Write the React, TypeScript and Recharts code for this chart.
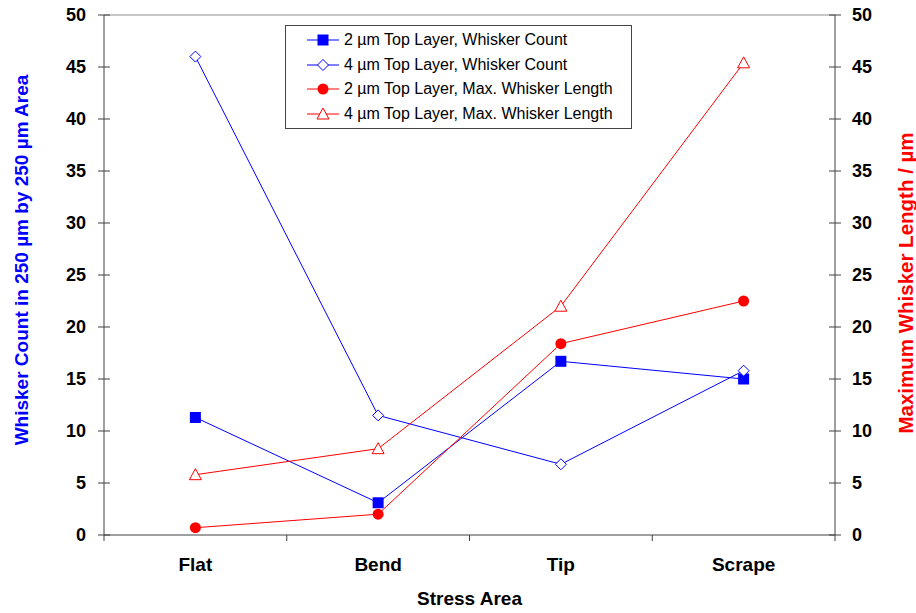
import React from 'react';
import { LineChart, Line, XAxis, YAxis, ReferenceLine } from 'recharts';

const categories = ['Flat', 'Bend', 'Tip', 'Scrape'];
const count2um = [11.3, 3.1, 16.7, 15.0];
const count4um = [46.0, 11.5, 6.8, 15.8];
const length2um = [0.7, 2.0, 18.4, 22.5];
const length4um = [5.8, 8.3, 22.0, 45.4];
const yTicks = [0, 5, 10, 15, 20, 25, 30, 35, 40, 45, 50];
const xTicks = [0, 0.5, 1, 1.5, 2, 2.5, 3, 3.5, 4];

const BLUE = '#0000ff';
const RED = '#ff0000';
const FONT = '"Liberation Sans", Arial, sans-serif';

const data = categories.map((name, i) => ({
    x: i + 0.5,
    name,
    count2um: count2um[i],
    count4um: count4um[i],
    length2um: length2um[i],
    length4um: length4um[i],
}));

type MarkerKind = 'square' | 'diamond' | 'circle' | 'triangle';

function Marker({ kind, cx, cy, color }: { kind: MarkerKind; cx: number; cy: number; color: string }) {
    if (kind === 'square') {
        return <rect x={cx - 5.5} y={cy - 5.5} width={11} height={11} fill={color} />;
    }
    if (kind === 'diamond') {
        return <polygon points={`${cx},${cy - 5.5} ${cx + 5.5},${cy} ${cx},${cy + 5.5} ${cx - 5.5},${cy}`} fill="#fff" stroke={color} strokeWidth={1} />;
    }
    if (kind === 'circle') {
        return <circle cx={cx} cy={cy} r={5.5} fill={color} />;
    }
    return <polygon points={`${cx},${cy - 6} ${cx + 6},${cy + 5} ${cx - 6},${cy + 5}`} fill="#fff" stroke={color} strokeWidth={1} />;
}

const series = [
    { key: 'count2um', label: '2 µm Top Layer, Whisker Count', color: BLUE, marker: 'square' as MarkerKind, axis: 'left' },
    { key: 'count4um', label: '4 µm Top Layer, Whisker Count', color: BLUE, marker: 'diamond' as MarkerKind, axis: 'left' },
    { key: 'length2um', label: '2 µm Top Layer, Max. Whisker Length', color: RED, marker: 'circle' as MarkerKind, axis: 'right' },
    { key: 'length4um', label: '4 µm Top Layer, Max. Whisker Length', color: RED, marker: 'triangle' as MarkerKind, axis: 'right' },
];

const LeftTick = (props: any) => {
    const { x, y, payload } = props;
    return (
        <g>
            <line x1={x - 6} x2={x + 6} y1={y} y2={y} stroke="#404040" />
            <text x={x - 18} y={y} dy={6} textAnchor="end" fontFamily={FONT} fontWeight="bold" fontSize={18} fill="#000">
                {payload.value}
            </text>
        </g>
    );
};

const RightTick = (props: any) => {
    const { x, y, payload } = props;
    return (
        <g>
            <line x1={x - 6} x2={x + 6} y1={y} y2={y} stroke="#404040" />
            <text x={x + 17} y={y} dy={6} textAnchor="start" fontFamily={FONT} fontWeight="bold" fontSize={18} fill="#000">
                {payload.value}
            </text>
        </g>
    );
};

const BottomTick = (props: any) => {
    const { x, y, payload } = props;
    const v = payload.value as number;
    if (Number.isInteger(v)) {
        return <line x1={x} x2={x} y1={y} y2={y + 6} stroke="#404040" />;
    }
    return (
        <text x={x} y={y + 36} textAnchor="middle" fontFamily={FONT} fontWeight="bold" fontSize={19} fill="#000">
            {categories[Math.floor(v)]}
        </text>
    );
};

const LegendBox = () => (
    <div style={{ position: 'absolute', left: 285, top: 25, width: 345, border: '1px solid #444', background: '#fff', padding: '2px 0', fontFamily: FONT, fontSize: 16, color: '#000' }}>
        {series.map(s => (
            <div key={s.key} style={{ display: 'flex', alignItems: 'center', height: 24.5 }}>
                <svg width={56} height={24} style={{ flexShrink: 0 }}>
                    <line x1={21} x2={53} y1={12} y2={12} stroke={s.color} strokeWidth={1} />
                    <Marker kind={s.marker} cx={37} cy={12} color={s.color} />
                </svg>
                <span style={{ marginLeft: 2, whiteSpace: 'nowrap' }}>{s.label}</span>
            </div>
        ))}
    </div>
);

export default function App() {
    return (
        <div style={{ position: 'absolute', left: 0, top: 0, width: 916, height: 613, background: '#fff' }}>
            <LineChart width={916} height={613} data={data} margin={{ top: 15, right: 21, bottom: 48, left: 44 }}>
                <XAxis
                    dataKey="x"
                    type="number"
                    domain={[0, 4]}
                    ticks={xTicks}
                    interval={0}
                    height={30}
                    tickSize={0}
                    tickMargin={0}
                    tickLine={false}
                    stroke="#404040"
                    tick={<BottomTick />}
                    label={{
                        content: (p: any) => (
                            <text x={p.viewBox.x + p.viewBox.width / 2} y={p.viewBox.y + 70} textAnchor="middle" fontFamily={FONT} fontWeight="bold" fontSize={19} fill="#000">
                                Stress Area
                            </text>
                        ),
                    }}
                />
                <YAxis
                    yAxisId="left"
                    orientation="left"
                    domain={[0, 50]}
                    ticks={yTicks}
                    interval={0}
                    width={60}
                    tickSize={0}
                    tickMargin={0}
                    tickLine={false}
                    stroke="#404040"
                    tick={<LeftTick />}
                    label={{
                        content: (p: any) => {
                            const cx = p.viewBox.x - 23;
                            const cy = 260;
                            return (
                                <text x={cx} y={cy} transform={`rotate(-90 ${cx} ${cy})`} textAnchor="middle" dominantBaseline="central" fontFamily={FONT} fontWeight="bold" fontSize={19} fill={BLUE}>
                                    Whisker Count in 250 µm by 250 µm Area
                                </text>
                            );
                        },
                    }}
                />
                <YAxis
                    yAxisId="right"
                    orientation="right"
                    domain={[0, 50]}
                    ticks={yTicks}
                    interval={0}
                    width={60}
                    tickSize={0}
                    tickMargin={0}
                    tickLine={false}
                    stroke="#404040"
                    tick={<RightTick />}
                    label={{
                        content: (p: any) => {
                            const cx = p.viewBox.x + 70;
                            const cy = 283;
                            return (
                                <text x={cx} y={cy} transform={`rotate(-90 ${cx} ${cy})`} textAnchor="middle" dominantBaseline="central" fontFamily={FONT} fontWeight="bold" fontSize={20.5} fill={RED}>
                                    Maximum Whisker Length / µm
                                </text>
                            );
                        },
                    }}
                />
                <ReferenceLine yAxisId="left" y={50} stroke="#909090" strokeWidth={1} />
                {series.map(s => (
                    <Line
                        key={s.key}
                        yAxisId={s.axis}
                        dataKey={s.key}
                        name={s.label}
                        type="linear"
                        stroke={s.color}
                        strokeWidth={1}
                        isAnimationActive={false}
                        dot={(p: any) => <Marker key={`${s.key}-${p.index}`} kind={s.marker} cx={p.cx} cy={p.cy} color={s.color} />}
                        activeDot={false}
                    />
                ))}
            </LineChart>
            <LegendBox />
        </div>
    );
}
